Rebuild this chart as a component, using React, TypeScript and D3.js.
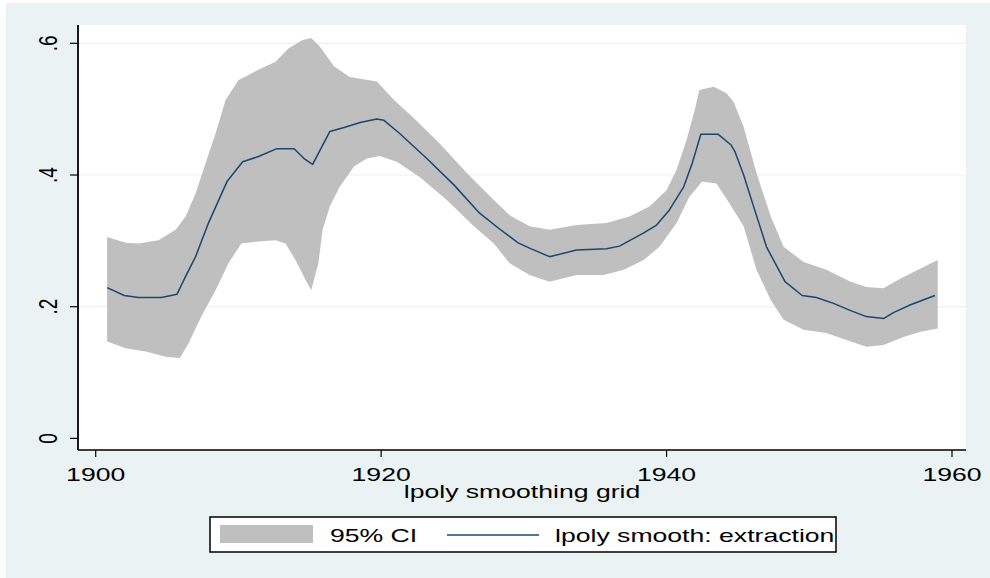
import React from "react";
import * as d3 from "d3";

// Smoothed line: [year, value]
const smoothYears = [1900.8,1902.0,1903.0,1904.6,1905.7,1906.3,1907.0,1907.9,1909.2,1910.3,1911.4,1912.7,1913.9,1914.6,1915.2,1916.4,1917.4,1918.6,1919.7,1920.2,1921.3,1923.2,1925.1,1926.9,1928.3,1929.6,1930.4,1931.8,1933.7,1935.8,1936.7,1938.4,1939.3,1940.2,1941.2,1941.8,1942.4,1943.6,1944.5,1944.8,1945.4,1946.1,1947.0,1948.3,1949.5,1950.5,1951.7,1952.9,1954.0,1955.2,1955.9,1957.1,1958.8];
const smoothValues = [0.229,0.217,0.214,0.214,0.219,0.246,0.276,0.327,0.390,0.420,0.428,0.440,0.440,0.425,0.416,0.466,0.472,0.480,0.485,0.483,0.463,0.425,0.385,0.342,0.318,0.297,0.289,0.276,0.286,0.288,0.292,0.312,0.324,0.347,0.382,0.418,0.462,0.462,0.446,0.435,0.400,0.352,0.291,0.238,0.217,0.214,0.205,0.194,0.185,0.182,0.191,0.203,0.217];

// Upper CI bound
const upperYears = [1900.8,1902.1,1903.0,1904.4,1905.6,1906.3,1907.0,1907.7,1908.4,1909.1,1910.0,1911.4,1912.6,1913.5,1914.5,1915.1,1915.7,1916.7,1917.8,1919.7,1920.9,1922.3,1924.1,1926.0,1927.9,1929.0,1930.4,1931.8,1933.7,1935.8,1937.4,1938.8,1940.0,1940.7,1941.4,1942.0,1942.3,1943.3,1944.2,1944.7,1945.4,1946.3,1947.3,1948.2,1949.6,1951.2,1952.9,1954.0,1955.2,1956.4,1957.8,1959.0];
const upperValues = [0.306,0.297,0.296,0.301,0.317,0.337,0.372,0.418,0.463,0.514,0.544,0.560,0.572,0.592,0.605,0.608,0.595,0.565,0.549,0.542,0.514,0.486,0.448,0.403,0.362,0.339,0.322,0.317,0.324,0.327,0.337,0.352,0.377,0.408,0.453,0.501,0.529,0.534,0.524,0.511,0.473,0.403,0.337,0.291,0.268,0.256,0.238,0.230,0.228,0.243,0.258,0.271];

// Lower CI bound
const lowerYears = [1900.8,1902.1,1903.5,1904.9,1905.9,1906.5,1907.4,1908.4,1909.3,1910.2,1911.4,1912.6,1913.3,1914.0,1914.7,1915.1,1915.6,1915.9,1916.4,1917.1,1918.1,1919.0,1919.9,1921.1,1922.7,1924.6,1926.5,1927.9,1929.0,1930.4,1931.8,1933.7,1935.6,1937.0,1938.4,1939.5,1940.7,1941.6,1942.5,1943.5,1944.4,1945.4,1946.3,1947.3,1948.2,1949.6,1951.2,1952.9,1954.0,1955.2,1956.6,1957.8,1959.0];
const lowerValues = [0.147,0.137,0.132,0.124,0.122,0.144,0.185,0.225,0.266,0.296,0.299,0.301,0.296,0.271,0.241,0.225,0.266,0.317,0.352,0.382,0.413,0.425,0.429,0.420,0.397,0.362,0.322,0.296,0.266,0.248,0.238,0.248,0.248,0.256,0.271,0.291,0.327,0.367,0.390,0.387,0.357,0.322,0.256,0.210,0.180,0.165,0.160,0.147,0.139,0.142,0.154,0.162,0.167];

const xTicks = [1900, 1920, 1940, 1960];
const yTicks = [0, 0.2, 0.4, 0.6];
const yTickLabels = ["0", ".2", ".4", ".6"];
const yGrid = [0.2, 0.4, 0.6];
const xTitle = "lpoly smoothing grid";
const legendLabels = ["95% CI", "lpoly smooth: extraction"];

const W = 990;
const H = 578;
const BG = "#eaf2f3";
const BAND = "#bfbfbf";
const LINE = "#1a476f";
const FONT = "'Liberation Sans', Arial, sans-serif";
const FS = 19;
const SX = 1.4;

const plot = { left: 78, right: 966, top: 25, bottom: 450 };

export default function App() {
  const x = d3.scaleLinear().domain([1900, 1960]).range([95.7, 952]);
  const y = d3.scaleLinear().domain([0, 0.6]).range([438.4, 43.3]);

  const linePts: [number, number][] = smoothYears.map((yr, i) => [x(yr), y(smoothValues[i])]);
  const upperPts: [number, number][] = upperYears.map((yr, i) => [x(yr), y(upperValues[i])]);
  const lowerPts: [number, number][] = lowerYears.map((yr, i) => [x(yr), y(lowerValues[i])]);
  const bandPath = (d3.line()([...upperPts, ...lowerPts.slice().reverse()]) || "") + "Z";
  const linePath = d3.line()(linePts) || "";

  const txt = (
    s: string,
    tx: number,
    ty: number,
    anchor: "start" | "middle" | "end" = "middle",
    rot = 0,
    key?: string
  ) => (
    <text
      key={key}
      transform={`translate(${tx},${ty}) scale(${SX},1)${rot ? ` rotate(${rot})` : ""}`}
      textAnchor={anchor}
      fontFamily={FONT}
      fontSize={FS}
      fill="#000"
    >
      {s}
    </text>
  );

  return (
    <svg
      width={W}
      height={H}
      style={{ position: "absolute", left: 0, top: 0, display: "block" }}
    >
      <rect x={0} y={0} width={W} height={H} fill="#ffffff" />
      <rect x={6} y={3} width={W - 6} height={H - 3} fill={BG} />
      <rect
        x={plot.left}
        y={plot.top}
        width={plot.right - plot.left}
        height={plot.bottom - plot.top}
        fill="#ffffff"
      />
      {yGrid.map((v) => (
        <line
          key={`g${v}`}
          x1={plot.left}
          x2={plot.right}
          y1={y(v)}
          y2={y(v)}
          stroke={BG}
          strokeWidth={1.2}
        />
      ))}
      <path d={bandPath} fill={BAND} stroke="none" />
      <path d={linePath} fill="none" stroke={LINE} strokeWidth={1.5} strokeLinejoin="round" />

      {/* axes */}
      <line x1={plot.left} x2={plot.left} y1={plot.top} y2={plot.bottom} stroke="#000" strokeWidth={1.8} />
      <line x1={plot.left} x2={plot.right} y1={plot.bottom} y2={plot.bottom} stroke="#000" strokeWidth={1.5} />
      {yTicks.map((v, i) => (
        <g key={`yt${v}`}>
          <line x1={plot.left - 8} x2={plot.left} y1={y(v)} y2={y(v)} stroke="#000" strokeWidth={1.2} />
          {txt(yTickLabels[i], 57, y(v), "middle", -90)}
        </g>
      ))}
      {xTicks.map((v) => (
        <g key={`xt${v}`}>
          <line x1={x(v)} x2={x(v)} y1={plot.bottom} y2={plot.bottom + 7} stroke="#000" strokeWidth={1.2} />
          {txt(String(v), x(v), 481, "middle")}
        </g>
      ))}
      {txt(xTitle, (plot.left + plot.right) / 2, 498, "middle")}

      {/* legend */}
      <rect x={210} y={517} width={626} height={35} fill="#ffffff" stroke="#000" strokeWidth={1.5} />
      <rect x={220} y={525} width={93} height={18} fill={BAND} />
      {txt(legendLabels[0], 330, 542, "start")}
      <line x1={447} x2={539} y1={535} y2={535} stroke={LINE} strokeWidth={1.5} />
      {txt(legendLabels[1], 555, 542, "start")}
    </svg>
  );
}
